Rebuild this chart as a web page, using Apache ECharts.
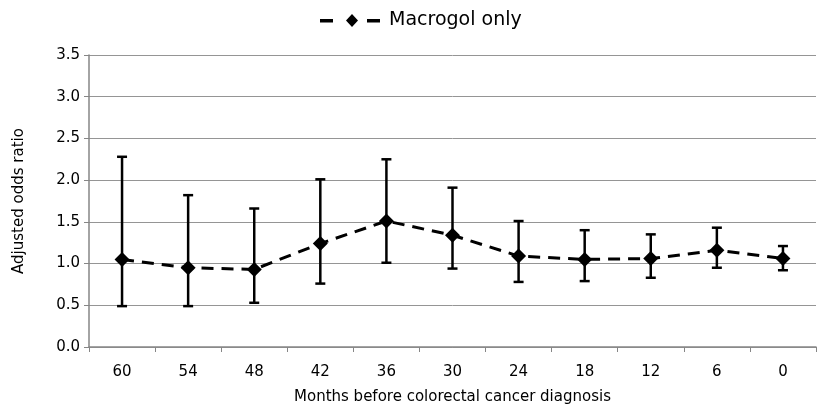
<!DOCTYPE html>
<html><head><meta charset="utf-8">
<script src="https://cdn.jsdelivr.net/npm/echarts@6/dist/echarts.min.js"></script>
<style>html,body{margin:0;padding:0;background:#fff}#c{width:829px;height:417px}</style>
</head><body><div id="c"></div>
<script>
const categories = ['60','54','48','42','36','30','24','18','12','6','0'];
const oddsRatio = [1.05,0.95,0.93,1.24,1.51,1.34,1.09,1.05,1.06,1.16,1.06];
const upperCI = [2.28,1.82,1.66,2.01,2.25,1.91,1.51,1.40,1.35,1.43,1.21];
const lowerCI = [0.49,0.49,0.53,0.76,1.01,0.94,0.78,0.79,0.83,0.95,0.92];
const yTicks = ['0.0','0.5','1.0','1.5','2.0','2.5','3.0','3.5'];

const font = '"DejaVu Sans", "Open Sans", sans-serif';
const chart = echarts.init(document.getElementById('c'));
chart.setOption({
  animation: false,
  legend: {
    top: 6, left: 315,
    icon: 'path://M0,6h13v3.5H0z M32,1L38,7.5L32,14L26,7.5z M47,6h13v3.5H47z',
    itemWidth: 60, itemHeight: 15, itemGap: 10,
    textStyle: {fontFamily: font, fontSize: 19, color: '#000', padding: [0, 0, 0, 4]},
    data: ['Macrogol only']
  },
  grid: {left: 89, right: 13, top: 55, bottom: 70, outerBoundsMode: 'none', containLabel: false},
  xAxis: {
    type: 'category', data: categories, boundaryGap: true,
    name: 'Months before colorectal cancer diagnosis', nameLocation: 'middle', nameGap: 43,
    nameTextStyle: {fontFamily: font, fontSize: 15, color: '#000'},
    axisLine: {lineStyle: {color: '#868686', width: 1.5}},
    axisTick: {show: true, length: 5, lineStyle: {color: '#868686'}},
    axisLabel: {fontFamily: font, fontSize: 15, color: '#000', margin: 18}
  },
  yAxis: {
    type: 'value', min: 0, max: 3.5, interval: 0.5,
    name: 'Adjusted odds ratio', nameLocation: 'middle', nameGap: 62,
    nameTextStyle: {fontFamily: font, fontSize: 15, color: '#000'},
    axisLine: {show: true, lineStyle: {color: '#868686', width: 1.5}},
    axisTick: {show: true, length: 5, lineStyle: {color: '#868686'}},
    axisLabel: {fontFamily: font, fontSize: 15, color: '#000', margin: 9,
      formatter: (v) => yTicks[Math.round(v / 0.5)]},
    splitLine: {lineStyle: {color: '#959595', width: 1}}
  },
  series: [
    {
      name: 'Macrogol only', type: 'line', data: oddsRatio,
      symbol: 'diamond', symbolSize: 15,
      itemStyle: {color: '#000'},
      lineStyle: {color: '#000', width: 3, type: [12, 8]},
      z: 5
    },
    {
      name: 'CI', type: 'custom',
      data: categories.map((c, i) => [i, lowerCI[i], upperCI[i]]),
      renderItem: function (params, api) {
        const x = api.value(0);
        const lo = api.coord([x, api.value(1)]);
        const hi = api.coord([x, api.value(2)]);
        const hw = 5;
        const st = {stroke: '#000', lineWidth: 2.5, fill: null};
        return {type: 'group', children: [
          {type: 'line', shape: {x1: lo[0], y1: lo[1], x2: hi[0], y2: hi[1]}, style: st},
          {type: 'line', shape: {x1: lo[0]-hw, y1: lo[1], x2: lo[0]+hw, y2: lo[1]}, style: st},
          {type: 'line', shape: {x1: hi[0]-hw, y1: hi[1], x2: hi[0]+hw, y2: hi[1]}, style: st}
        ]};
      },
      z: 4
    }
  ]
});
</script></body></html>
